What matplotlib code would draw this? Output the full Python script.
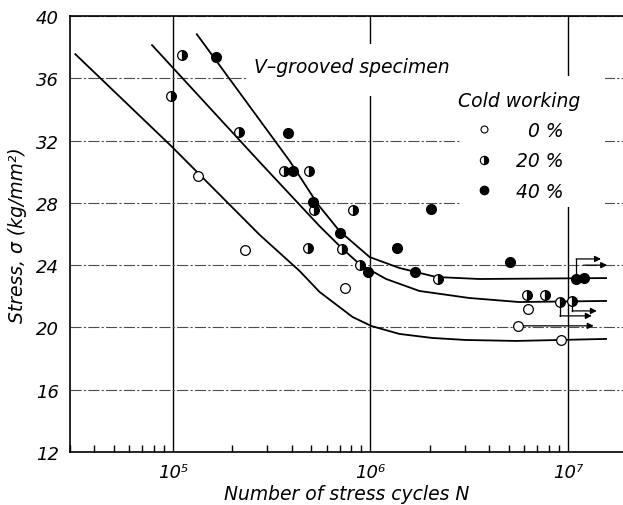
import matplotlib
matplotlib.use("Agg")
import matplotlib.pyplot as plt
from matplotlib.lines import Line2D
from matplotlib.patches import Rectangle
from matplotlib.ticker import FixedLocator, LogLocator, NullFormatter

plt.rcParams['font.family'] = ['DejaVu Sans']
plt.rcParams['font.style'] = 'italic'

# test points (N cycles, stress kg/mm^2)
N_0 = [1.34e5, 2.31e5, 7.4e5, 5.6e6, 6.3e6, 9.2e6]
S_0 = [29.7, 25.0, 22.5, 20.1, 21.2, 19.2]

N_20 = [9.8e4, 1.11e5, 2.15e5, 3.63e5, 4.9e5, 5.15e5, 8.2e5, 4.8e5,
        7.2e5, 8.9e5, 2.2e6, 6.2e6, 7.65e6, 9.1e6, 1.05e7]
S_20 = [34.9, 37.5, 32.55, 30.05, 30.05, 27.55, 27.55, 25.1,
        25.05, 24.0, 23.1, 22.1, 22.1, 21.6, 21.7]

N_40 = [1.65e5, 3.8e5, 4.03e5, 5.1e5, 6.97e5, 9.66e5, 1.37e6, 1.69e6,
        2.03e6, 5.1e6, 1.1e7, 1.2e7]
S_40 = [37.4, 32.5, 30.05, 28.05, 26.07, 23.56, 25.1, 23.56,
        27.6, 24.2, 23.1, 23.2]

# S-N curves as drawn
curve_N_0 = [3.2e4, 9.8e4, 2.75e5, 4.38e5, 5.52e5, 8.11e5, 1.01e6, 1.4e6,
             2.06e6, 3.05e6, 5.46e6, 9.0e6, 1.56e7]
curve_S_0 = [37.56, 31.65, 25.94, 23.62, 22.28, 20.67, 20.09, 19.58,
             19.32, 19.19, 19.13, 19.19, 19.26]
curve_N_20 = [7.83e4, 2.75e5, 5.52e5, 7.23e5, 8.8e5, 1.2e6, 1.77e6, 3.16e6,
              5.66e6, 1.56e7]
curve_S_20 = [38.14, 30.62, 26.51, 25.04, 24.07, 23.11, 22.34, 21.89,
              21.63, 21.70]
curve_N_40 = [1.32e5, 3.9e5, 5.4e5, 6.97e5, 9.9e5, 1.4e6, 2.15e6, 3.56e6,
              1.56e7]
curve_S_40 = [38.84, 30.69, 27.93, 26.19, 24.52, 23.82, 23.24, 23.11,
              23.17]

# run-outs: start N, start S, level S, end N
run_N0 = [1.1e7, 1.2e7, 9.1e6, 1.05e7, 5.6e6]
run_S0 = [23.1, 24.0, 21.6, 21.7, 20.1]
run_S1 = [24.4, 24.0, 20.74, 21.06, 20.1]
run_N1 = [1.47e7, 1.58e7, 1.32e7, 1.4e7, 1.35e7]

yticks = [12, 16, 20, 24, 28, 32, 36, 40]
xticks = [1e5, 1e6, 1e7]
xticklabels = ['10\u2075', '10\u2076', '10\u2077']
legend_labels = ['  0 %', '20 %', '40 %']

fig = plt.figure(figsize=(6.23, 5.06), dpi=100)
ax = fig.add_axes([0.112, 0.105, 0.888, 0.861])
ax.set_xscale('log')
ax.set_xlim(3e4, 1.9e7)
ax.set_ylim(12, 40)
ax.set_axisbelow(True)

ax.set_yticks(yticks)
ax.set_yticklabels([str(v) for v in yticks])
ax.xaxis.set_major_locator(FixedLocator(xticks))
ax.set_xticklabels(xticklabels)
ax.xaxis.set_minor_locator(LogLocator(base=10, subs=range(2, 10)))
ax.xaxis.set_minor_formatter(NullFormatter())
ax.tick_params(axis='y', length=0, pad=8, labelsize=13)
ax.tick_params(axis='x', which='major', length=0, pad=8, labelsize=13)
ax.tick_params(axis='x', which='minor', direction='in', length=5, width=1)

ax.yaxis.grid(True, color='0.3', lw=0.8, linestyle=(0, (10, 2, 2, 2)))
ax.xaxis.grid(True, which='major', color='black', lw=1.0)
ax.spines['right'].set_visible(False)
for side in ['left', 'bottom', 'top']:
    ax.spines[side].set_linewidth(1.2)

# white cut-outs behind the note and legend
ax.add_patch(Rectangle((0.320, 0.817), 0.391, 0.119, transform=ax.transAxes,
                       facecolor='white', edgecolor='none', zorder=1))
ax.add_patch(Rectangle((0.705, 0.562), 0.262, 0.300, transform=ax.transAxes,
                       facecolor='white', edgecolor='none', zorder=1))

ax.plot(curve_N_0, curve_S_0, color='black', lw=1.3, zorder=2)
ax.plot(curve_N_20, curve_S_20, color='black', lw=1.3, zorder=2)
ax.plot(curve_N_40, curve_S_40, color='black', lw=1.3, zorder=2)

for n0, s0, s1, n1 in zip(run_N0, run_S0, run_S1, run_N1):
    if s1 != s0:
        ax.plot([n0, n0], [s0, s1], color='black', lw=0.9, zorder=2)
    ax.annotate('', xy=(n1, s1), xytext=(n0, s1),
                arrowprops=dict(arrowstyle='-|>', color='black', lw=0.9,
                                mutation_scale=9, shrinkA=0, shrinkB=0),
                zorder=2)

ms = 7
ax.plot(N_0, S_0, 'o', ms=ms, mfc='white', mec='black', mew=0.9, zorder=3)
ax.plot(N_20, S_20, 'o', ms=ms, fillstyle='right', mfc='black',
        mfcalt='white', mec='black', mew=0.9, zorder=3)
ax.plot(N_40, S_40, 'o', ms=ms, mfc='black', mec='black', zorder=3)

ax.text(0.51, 0.885, 'V\u2013grooved specimen', transform=ax.transAxes,
        ha='center', va='center', fontsize=13.5, zorder=4)

handles = [
    Line2D([], [], ls='none', marker='o', ms=5, mfc='white', mec='black', mew=0.8),
    Line2D([], [], ls='none', marker='o', ms=6, fillstyle='right', mfc='black',
           mfcalt='white', mec='black', mew=0.8),
    Line2D([], [], ls='none', marker='o', ms=6, mfc='black', mec='black'),
]
leg = ax.legend(handles, legend_labels, title='Cold working', loc='upper left',
                bbox_to_anchor=(0.689, 0.846), frameon=False, fontsize=13.5,
                title_fontsize=13.5, labelspacing=0.6, handletextpad=1.2,
                handlelength=1.0, borderaxespad=0)
leg.set_zorder(4)

ax.set_xlabel('Number of stress cycles N', fontsize=13.5, labelpad=2)
ax.set_ylabel('Stress, \u03c3 (kg/mm\u00b2)', fontsize=13.5, labelpad=6)

fig.savefig('out.png', dpi=100)
